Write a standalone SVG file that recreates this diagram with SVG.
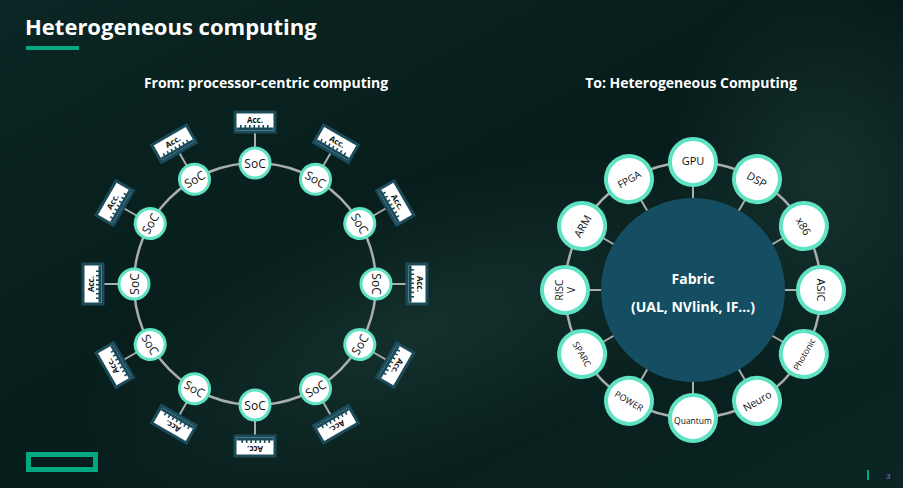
<svg xmlns="http://www.w3.org/2000/svg" width="903" height="488" viewBox="0 0 903 488">
<defs>
<linearGradient id="bg" x1="0" y1="0" x2="1" y2="1">
<stop offset="0" stop-color="#0b2624"/><stop offset="0.5" stop-color="#061c1a"/><stop offset="1" stop-color="#0a2522"/>
</linearGradient>
<radialGradient id="glow" cx="0.5" cy="0.5" r="0.5">
<stop offset="0" stop-color="#1d3d39" stop-opacity="0.6"/><stop offset="1" stop-color="#1d3d39" stop-opacity="0"/>
</radialGradient>
<style>
.t{font-family:"Open Sans","Liberation Sans",sans-serif}
.ring{fill:none;stroke:#a9aeac;stroke-width:2.5}
.spoke{stroke:#a9aeac;stroke-width:2}
.soc{fill:#fff;stroke:#5fe3c3;stroke-width:3}
.soct{font-family:"Open Sans","Liberation Sans",sans-serif;font-size:12px;fill:#111;text-anchor:middle;dominant-baseline:central}
.acc{fill:#fff;stroke:#1b4b5b;stroke-width:3}
.tooth{fill:#1b4b5b}
.acct{font-family:"Open Sans","Liberation Sans",sans-serif;font-size:8px;font-weight:bold;fill:#111;text-anchor:middle}
.node{fill:#fff;stroke:#5fe3c3;stroke-width:4}
.nt{font-family:"Open Sans","Liberation Sans",sans-serif;fill:#111;text-anchor:middle;dominant-baseline:central}
</style>
<g id="accbox">
<rect class="acc" x="-20" y="-10" width="40" height="20"/>
<rect class="tooth" x="-18.5" y="5.5" width="37" height="3"/>
<g class="tooth">
<rect x="-15" y="3" width="1.6" height="3"/><rect x="-10.5" y="3" width="1.6" height="3"/><rect x="-6" y="3" width="1.6" height="3"/><rect x="-1.5" y="3" width="1.6" height="3"/><rect x="3" y="3" width="1.6" height="3"/><rect x="7.5" y="3" width="1.6" height="3"/><rect x="12" y="3" width="1.6" height="3"/>
</g>
<text class="acct" x="0" y="0.5">Acc.</text>
</g>
</defs>
<rect width="903" height="488" fill="url(#bg)"/>
<ellipse cx="420" cy="330" rx="380" ry="140" fill="url(#glow)" transform="rotate(-20 420 330)"/>
<ellipse cx="820" cy="180" rx="160" ry="200" fill="url(#glow)"/>
<g id="title">
<text class="t" x="25" y="35" font-size="22" font-weight="bold" fill="#fff">Heterogeneous computing</text>
<rect x="26" y="46" width="53" height="4" fill="#01a982"/>
</g>
<text class="t" x="266" y="88" font-size="14" font-weight="bold" fill="#fff" text-anchor="middle">From: processor-centric computing</text>
<text class="t" x="691" y="88" font-size="14" font-weight="bold" fill="#fff" text-anchor="middle">To: Heterogeneous Computing</text>

<g id="left" transform="translate(255,284)">
<g id="left-connectors">
<circle class="ring" r="121"/>
<g class="spoke">
<line x1="0" y1="-136" x2="0" y2="-152" transform="rotate(0)"/><line x1="0" y1="-136" x2="0" y2="-152" transform="rotate(30)"/><line x1="0" y1="-136" x2="0" y2="-152" transform="rotate(60)"/><line x1="0" y1="-136" x2="0" y2="-152" transform="rotate(90)"/><line x1="0" y1="-136" x2="0" y2="-152" transform="rotate(120)"/><line x1="0" y1="-136" x2="0" y2="-152" transform="rotate(150)"/><line x1="0" y1="-136" x2="0" y2="-152" transform="rotate(180)"/><line x1="0" y1="-136" x2="0" y2="-152" transform="rotate(210)"/><line x1="0" y1="-136" x2="0" y2="-152" transform="rotate(240)"/><line x1="0" y1="-136" x2="0" y2="-152" transform="rotate(270)"/><line x1="0" y1="-136" x2="0" y2="-152" transform="rotate(300)"/><line x1="0" y1="-136" x2="0" y2="-152" transform="rotate(330)"/>
</g>
</g>
<g id="soc0" transform="rotate(0)"><use href="#accbox" y="-162"/><circle class="soc" cy="-121" r="15"/><text class="soct" y="-121">SoC</text></g>
<g id="soc30" transform="rotate(30)"><use href="#accbox" y="-162"/><circle class="soc" cy="-121" r="15"/><text class="soct" y="-121">SoC</text></g>
<g id="soc60" transform="rotate(60)"><use href="#accbox" y="-162"/><circle class="soc" cy="-121" r="15"/><text class="soct" y="-121">SoC</text></g>
<g id="soc90" transform="rotate(90)"><use href="#accbox" y="-162"/><circle class="soc" cy="-121" r="15"/><text class="soct" y="-121">SoC</text></g>
<g id="soc120" transform="rotate(120)"><use href="#accbox" y="-162"/><circle class="soc" cy="-121" r="15"/><text class="soct" transform="translate(0,-121) rotate(180)">SoC</text></g>
<g id="soc150" transform="rotate(150)"><use href="#accbox" y="-162"/><circle class="soc" cy="-121" r="15"/><text class="soct" transform="translate(0,-121) rotate(180)">SoC</text></g>
<g id="soc180" transform="rotate(180)"><use href="#accbox" y="-162"/><circle class="soc" cy="-121" r="15"/><text class="soct" transform="translate(0,-121) rotate(180)">SoC</text></g>
<g id="soc210" transform="rotate(210)"><use href="#accbox" y="-162"/><circle class="soc" cy="-121" r="15"/><text class="soct" transform="translate(0,-121) rotate(180)">SoC</text></g>
<g id="soc240" transform="rotate(240)"><use href="#accbox" y="-162"/><circle class="soc" cy="-121" r="15"/><text class="soct" transform="translate(0,-121) rotate(180)">SoC</text></g>
<g id="soc270" transform="rotate(270)"><use href="#accbox" y="-162"/><circle class="soc" cy="-121" r="15"/><text class="soct" y="-121">SoC</text></g>
<g id="soc300" transform="rotate(300)"><use href="#accbox" y="-162"/><circle class="soc" cy="-121" r="15"/><text class="soct" y="-121">SoC</text></g>
<g id="soc330" transform="rotate(330)"><use href="#accbox" y="-162"/><circle class="soc" cy="-121" r="15"/><text class="soct" y="-121">SoC</text></g>
</g>

<g id="right" transform="translate(693,290)">
<g id="right-connectors">
<circle class="ring" r="128"/>
<g class="spoke">
<line y1="-90" y2="-106" transform="rotate(0)"/><line y1="-90" y2="-106" transform="rotate(30)"/><line y1="-90" y2="-106" transform="rotate(60)"/><line y1="-90" y2="-106" transform="rotate(90)"/><line y1="-90" y2="-106" transform="rotate(120)"/><line y1="-90" y2="-106" transform="rotate(150)"/><line y1="-90" y2="-106" transform="rotate(180)"/><line y1="-90" y2="-106" transform="rotate(210)"/><line y1="-90" y2="-106" transform="rotate(240)"/><line y1="-90" y2="-106" transform="rotate(270)"/><line y1="-90" y2="-106" transform="rotate(300)"/><line y1="-90" y2="-106" transform="rotate(330)"/>
</g>
</g>
<g id="fabric">
<circle r="92" fill="#154e63"/>
<text class="t" y="-6" font-size="14" font-weight="bold" fill="#fff" text-anchor="middle">Fabric</text>
<text class="t" y="22" font-size="14" font-weight="bold" fill="#fff" text-anchor="middle">(UAL, NVlink, IF…)</text>
</g>
<g id="gpu" transform="rotate(0)"><circle class="node" cy="-128" r="23"/><text class="nt" y="-130" font-size="11">GPU</text></g>
<g id="dsp" transform="rotate(30)"><circle class="node" cy="-128" r="23"/><text class="nt" y="-128" font-size="11">DSP</text></g>
<g id="x86" transform="rotate(60)"><circle class="node" cy="-128" r="23"/><text class="nt" y="-128" font-size="11">x86</text></g>
<g id="asic" transform="rotate(90)"><circle class="node" cy="-128" r="23"/><text class="nt" y="-128" font-size="11">ASIC</text></g>
<g id="photonic" transform="rotate(120)"><circle class="node" cy="-128" r="23"/><text class="nt" transform="translate(0,-128) rotate(180)" font-size="8.5">Photonic</text></g>
<g id="neuro" transform="rotate(150)"><circle class="node" cy="-128" r="23"/><text class="nt" transform="translate(0,-128) rotate(180)" font-size="10.5">Neuro</text></g>
<g id="quantum" transform="rotate(180)"><circle class="node" cy="-128" r="23"/><text class="nt" transform="translate(0,-130) rotate(180)" font-size="8.5">Quantum</text></g>
<g id="power" transform="rotate(210)"><circle class="node" cy="-128" r="23"/><text class="nt" transform="translate(0,-128) rotate(180)" font-size="9">POWER</text></g>
<g id="sparc" transform="rotate(240)"><circle class="node" cy="-128" r="23"/><text class="nt" transform="translate(0,-128) rotate(180)" font-size="9">SPARC</text></g>
<g id="riscv" transform="rotate(270)"><circle class="node" cy="-128" r="23"/><text class="nt" y="-134" font-size="10">RISC</text><text class="nt" y="-122" font-size="10">V</text></g>
<g id="arm" transform="rotate(300)"><circle class="node" cy="-128" r="23"/><text class="nt" y="-128" font-size="11">ARM</text></g>
<g id="fpga" transform="rotate(330)"><circle class="node" cy="-128" r="23"/><text class="nt" y="-128" font-size="10">FPGA</text></g>
</g>

<g id="footer">
<rect x="28.5" y="454.5" width="67" height="15" fill="none" stroke="#01a982" stroke-width="5"/>
<rect x="867" y="470" width="2" height="10" fill="#01a982"/>
<text class="t" x="886" y="479" font-size="8" fill="#a070e0">3</text>
</g>
</svg>
